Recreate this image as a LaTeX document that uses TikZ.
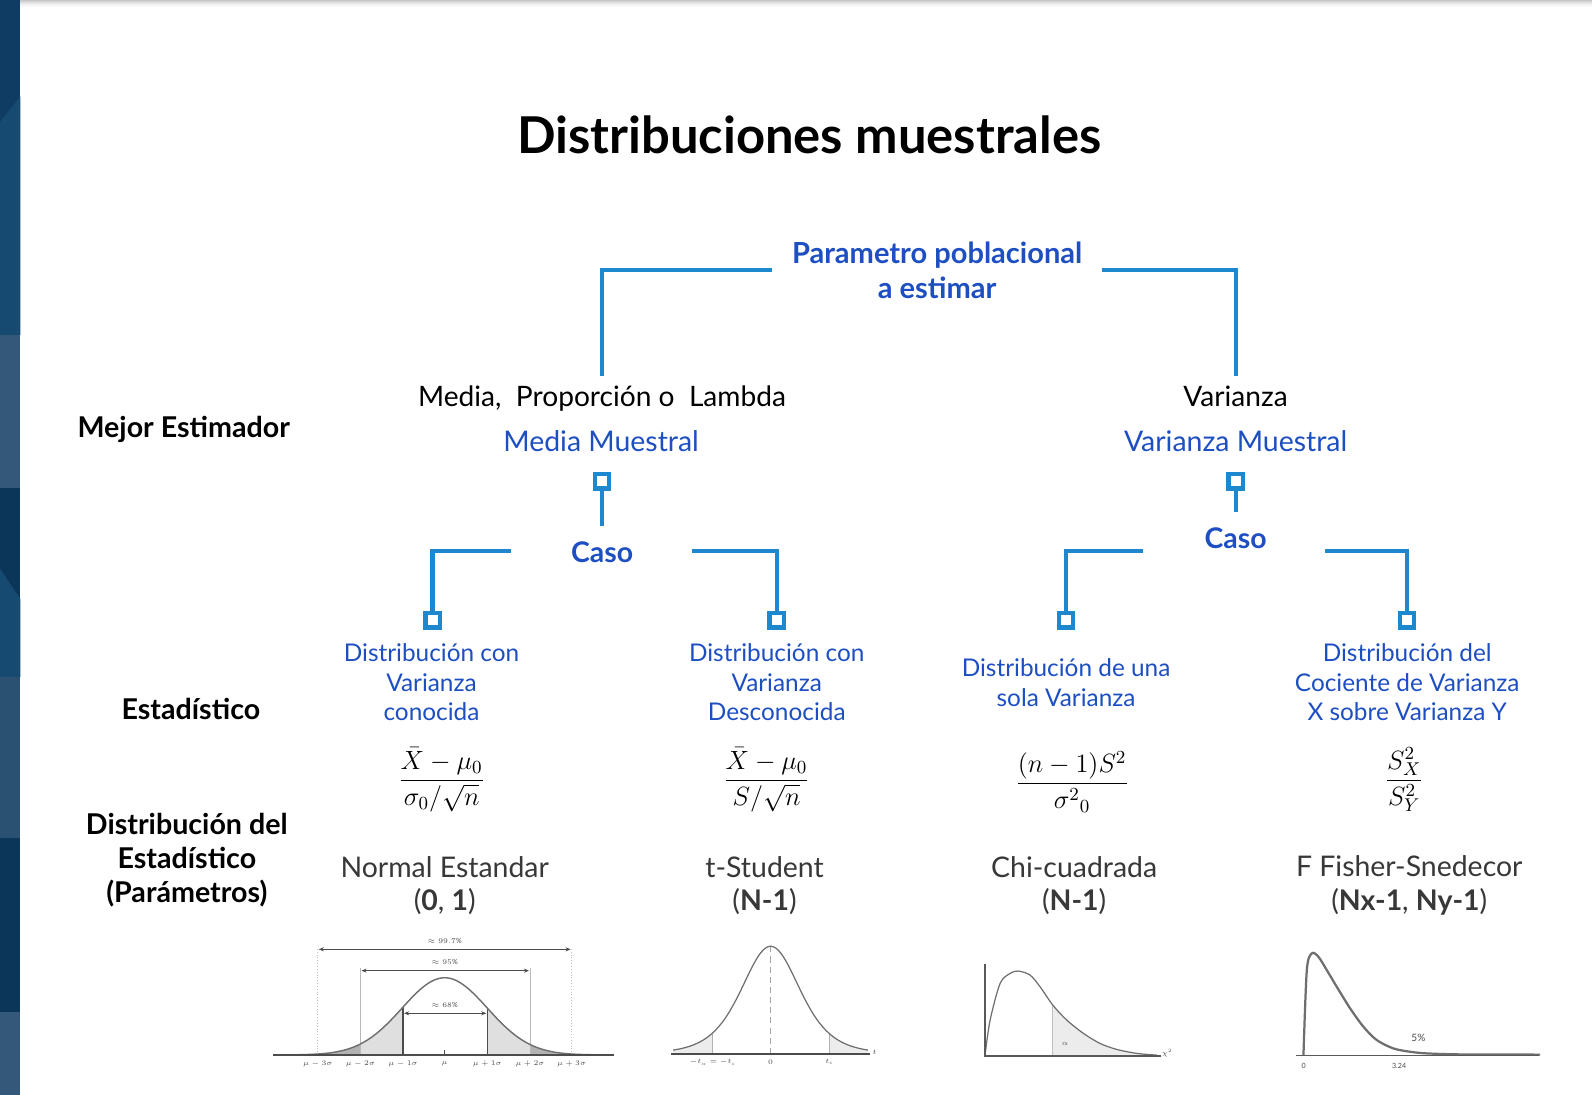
\RequirePackage{fix-cm}
\documentclass[tikz,border=0pt]{standalone}
\usepackage{fontspec}
\setmainfont{Lato}
\usetikzlibrary{arrows.meta}

\definecolor{lineblue}{HTML}{1E88CF}
\definecolor{textblue}{HTML}{1D4FC2}
\definecolor{graytext}{HTML}{383838}
\definecolor{navyA}{HTML}{0E3C62}
\definecolor{navyB}{HTML}{174A70}
\definecolor{navyC}{HTML}{33587A}
\definecolor{navyD}{HTML}{0B3659}
\definecolor{navyE}{HTML}{2A5072}
\definecolor{plotgray}{HTML}{6E6E6E}

\tikzset{
  conn/.style={draw=lineblue, line width=2.1pt},
  sqnode/.style={draw=lineblue, line width=2.1pt, fill=white, rectangle,
    minimum size=7pt, inner sep=0pt},
  titletext/.style={font=\bfseries\fontsize{25}{30}\selectfont},
  toplbl/.style={text=textblue, font=\bfseries\fontsize{14.3}{17}\selectfont,
    align=center, inner xsep=9.5pt},
  plaintext/.style={font=\fontsize{13.85}{16}\selectfont, text height=10pt,
    text depth=3pt, inner ysep=4.5pt},
  bluemain/.style={text=textblue, font=\fontsize{14}{17}\selectfont},
  casolbl/.style={text=textblue, font=\bfseries\fontsize{14}{17}\selectfont,
    text height=10pt, text depth=0pt, inner xsep=0pt},
  bluelbl/.style={text=textblue, font=\fontsize{12}{14.5}\selectfont, align=center},
  rowlbl/.style={font=\bfseries\fontsize{14.1}{16.8}\selectfont, align=center},
  distname/.style={text=graytext, font=\fontsize{14}{16.5}\selectfont, align=center},
  formula/.style={font=\fontsize{13}{15}\selectfont},
  curve/.style={draw=plotgray, line width=0.7pt},
  axisline/.style={draw=black!70, line width=0.9pt},
  tinylbl/.style={font=\fontsize{3.5}{4}\selectfont, text=black!70, inner sep=0.5pt},
  declare function={
    nrm(\x)=1039-76*exp(-((\x-438)/42)^2/2);
    tdst(\x)=1038-106/((1+((\x-759)/30)^2/5)^3);
  }
}

\begin{document}
\begin{tikzpicture}[x=0.5pt,y=-0.5pt]
  % page and side band
  \useasboundingbox (0,0) rectangle (1568,1078);
  \fill[white] (0,0) rectangle (1568,1078);
  \fill[navyA] (0,0) rectangle (20,330);
  \fill[navyB] (0,120) -- (20,95) -- (20,330) -- (0,330) -- cycle;
  \fill[navyC] (0,330) rectangle (20,481);
  \fill[navyD] (0,481) rectangle (20,667);
  \fill[navyB] (0,560) -- (20,590) -- (20,667) -- (0,667) -- cycle;
  \fill[navyE] (0,667) rectangle (20,825);
  \fill[navyD] (0,825) rectangle (20,997);
  \fill[navyC] (0,997) rectangle (20,1078);
  \foreach \i/\o in {0/0.22,1/0.17,2/0.13,3/0.09,4/0.06,5/0.04,6/0.02}
    \fill[black, opacity=\o] (20,\i) rectangle (1568,\i+1);

  % title
  \node[titletext] (title) at (797,133) {Distribuciones muestrales};

  % first level
  \node[toplbl] (param) at (923,266) {Parametro poblacional\\a estimar};
  \node[plaintext] (media) at (593,393) {Media,\ \ Proporción o\ \ Lambda};
  \node[plaintext] (varz) at (1217,393) {Varianza};
  \draw[conn] (param.west) -| (media);
  \draw[conn] (param.east) -| (varz);

  % best estimator
  \node[rowlbl] (mejor) at (181,423) {Mejor Estimador};
  \node[bluemain] (mm) at (592,434) {Media Muestral};
  \node[bluemain] (vm) at (1217,434) {Varianza Muestral};

  % cases
  \node[sqnode] (sq1) at (593,474) {};
  \node[sqnode] (sq2) at (1217,474) {};
  \node[casolbl, inner ysep=8pt] (caso1) at (593,544) {Caso};
  \node[casolbl, inner ysep=7.5pt] (caso2) at (1217,530) {Caso};
  \draw[conn] (sq1) -- (caso1);
  \draw[conn] (sq2) -- (caso2);

  \coordinate (b1) at (503,543);
  \coordinate (b2) at (682,543);
  \coordinate (b3) at (1126,543);
  \coordinate (b4) at (1305,543);
  \node[sqnode] (sqa) at (426,611) {};
  \node[sqnode] (sqb) at (765,611) {};
  \node[sqnode] (sqc) at (1050,611) {};
  \node[sqnode] (sqd) at (1386,611) {};
  \draw[conn] (b1) -| (sqa);
  \draw[conn] (b2) -| (sqb);
  \draw[conn] (b3) -| (sqc);
  \draw[conn] (b4) -| (sqd);

  % statistic labels
  \node[bluelbl] (da) at (425,672) {Distribución con\\Varianza\\conocida};
  \node[bluelbl] (db) at (765,672) {Distribución con\\Varianza\\Desconocida};
  \node[bluelbl] (dc) at (1050,672.5) {Distribución de una\\sola Varianza};
  \node[bluelbl] (dd) at (1386,672) {Distribución del\\Cociente de Varianza\\X sobre Varianza Y};
  \node[rowlbl] (estad) at (188,698) {Estadístico};

  % formulas
  \node[formula] (fa) at (435,768) {$\displaystyle\frac{\bar X-\mu_0}{\sigma_0/\sqrt{n}}$};
  \node[formula] (fb) at (755,768) {$\displaystyle\frac{\bar X-\mu_0}{S/\sqrt{n}}$};
  \node[formula] (fc) at (1056,770) {$\displaystyle\frac{(n-1)S^2}{{\sigma^2}_0}$};
  \node[formula] (fd) at (1383,768) {$\displaystyle\frac{S_X^2}{S_Y^2}$};

  % distributions
  \node[rowlbl] (distest) at (184,847) {Distribución del\\Estadístico\\(Parámetros)};
  \node[distname] (na) at (438,872) {Normal Estandar\\(\textbf{0}, \textbf{1})};
  \node[distname] (nb) at (753,872) {t-Student\\(\textbf{N-1})};
  \node[distname] (nc) at (1058,872) {Chi-cuadrada\\(\textbf{N-1})};
  \node[distname] (nd) at (1388,872) {F Fisher-Snedecor\\(\textbf{Nx-1}, \textbf{Ny-1})};

  % normal curve with 68-95-99.7 areas
  \fill[gray!60] (290,1039) -- plot[domain=290:355,samples=30] (\x,{nrm(\x)}) -- (355,1039) -- cycle;
  \fill[gray!60] (522,1039) -- plot[domain=522:586,samples=30] (\x,{nrm(\x)}) -- (586,1039) -- cycle;
  \fill[gray!25] (355,1039) -- plot[domain=355:397,samples=20] (\x,{nrm(\x)}) -- (397,1039) -- cycle;
  \fill[gray!25] (480,1039) -- plot[domain=480:522,samples=20] (\x,{nrm(\x)}) -- (522,1039) -- cycle;
  \draw[gray!50, line width=0.4pt, densely dotted] (313,1039) -- (313,933) (563,1039) -- (563,933);
  \draw[gray!55, line width=0.4pt] (355,1039) -- (355,953) (522,1039) -- (522,953);
  \draw[black!70, line width=0.6pt] (397,1039) -- (397,{nrm(397)}) (480,1039) -- (480,{nrm(480)});
  \draw[curve] plot[domain=290:586,samples=120] (\x,{nrm(\x)});
  \draw[black!70, line width=0.4pt, {Stealth[length=2.5pt,width=2pt]}-{Stealth[length=2.5pt,width=2pt]}]
    (314,935) -- (562,935);
  \draw[black!70, line width=0.4pt, {Stealth[length=2.5pt,width=2pt]}-{Stealth[length=2.5pt,width=2pt]}]
    (356,956) -- (521,956);
  \draw[black!70, line width=0.4pt, {Stealth[length=2.5pt,width=2pt]}-{Stealth[length=2.5pt,width=2pt]}]
    (398,998) -- (479,998);
  \node[tinylbl] (p997) at (438,927) {$\approx 99.7\%$};
  \node[tinylbl] (p95) at (438,948) {$\approx 95\%$};
  \node[tinylbl] (p68) at (438,990) {$\approx 68\%$};
  \draw[axisline] (269,1039) -- (605,1039);
  \draw[black!70, line width=0.4pt] (438,1039) -- (438,1034);
  \foreach \xx/\lb [count=\k] in {313/{\mu-3\sigma},355/{\mu-2\sigma},397/{\mu-1\sigma},438/{\mu},480/{\mu+1\sigma},522/{\mu+2\sigma},563/{\mu+3\sigma}}
    \node[tinylbl] (nt\k) at (\xx,1048) {$\lb$};

  % t distribution
  \fill[gray!15] (663,1038) -- plot[domain=663:702,samples=20] (\x,{tdst(\x)}) -- (702,1038) -- cycle;
  \fill[gray!15] (817,1038) -- plot[domain=817:855,samples=20] (\x,{tdst(\x)}) -- (855,1038) -- cycle;
  \draw[gray!60, line width=0.4pt] (702,1038) -- (702,{tdst(702)}) (817,1038) -- (817,{tdst(817)});
  \draw[gray!70, line width=0.5pt, densely dashed] (759,1038) -- (759,932);
  \draw[curve, line width=0.6pt] plot[domain=663:855,samples=100] (\x,{tdst(\x)});
  \draw[axisline] (661,1038) -- (857,1038);
  \node[tinylbl, anchor=west] (tl) at (858,1036) {$t$};
  \node[tinylbl] (tt1) at (702,1046) {$-t_\alpha=-t_c$};
  \node[tinylbl] (tt2) at (759,1046) {$0$};
  \node[tinylbl] (tt3) at (817,1046) {$t_c$};

  % chi-square distribution
  \fill[gray!15] (1036.9,1039.5) -- plot[smooth] coordinates {(1036.9,989.9) (1050.7,1004.7) (1067.1,1017.8) (1083.5,1027.7) (1100,1033.6) (1119.6,1037.5) (1139.3,1039.2)} -- cycle;
  \draw[gray!50, line width=0.4pt] (1036.9,1039.5) -- (1036.9,989.9);
  \draw[curve, line width=0.6pt] plot[smooth] coordinates {(970.2,1039.2) (975.2,1004.7) (985,968.6) (994.9,958.7) (1003,956.4) (1014.6,960.4) (1024.4,971.9) (1036.9,989.9) (1050.7,1004.7) (1067.1,1017.8) (1083.5,1027.7) (1100,1033.6) (1119.6,1037.5) (1139.3,1039.2)};
  \draw[draw=black!65, line width=1.3pt] (970,949) -- (970,1040) -- (1143,1040);
  \node[tinylbl, anchor=west] (chil) at (1143,1037) {$\chi^2$};
  \node[tinylbl] (chia) at (1049,1028) {$\alpha$};

  % F distribution
  \draw[plotgray, line width=1.1pt] plot[smooth] coordinates {(1283.8,1039.2) (1287.1,955.5) (1292,939) (1298.5,942.3) (1306.8,955.5) (1316.6,971.9) (1329.8,993.2) (1342.9,1011.3) (1356,1024.4) (1372.4,1032.6) (1388.9,1035.9) (1405.3,1037.5) (1440,1038.5) (1516.9,1038.7)};
  \draw[draw=black!65, line width=0.9pt] (1276,1039.5) -- (1516,1039.5);
  \node[tinylbl, font=\fontsize{5}{6}\selectfont] (f5) at (1397,1022) {5\%};
  \node[tinylbl] (f0) at (1284,1050) {0};
  \node[tinylbl] (f324) at (1378,1050) {3.24};
\end{tikzpicture}
\end{document}
